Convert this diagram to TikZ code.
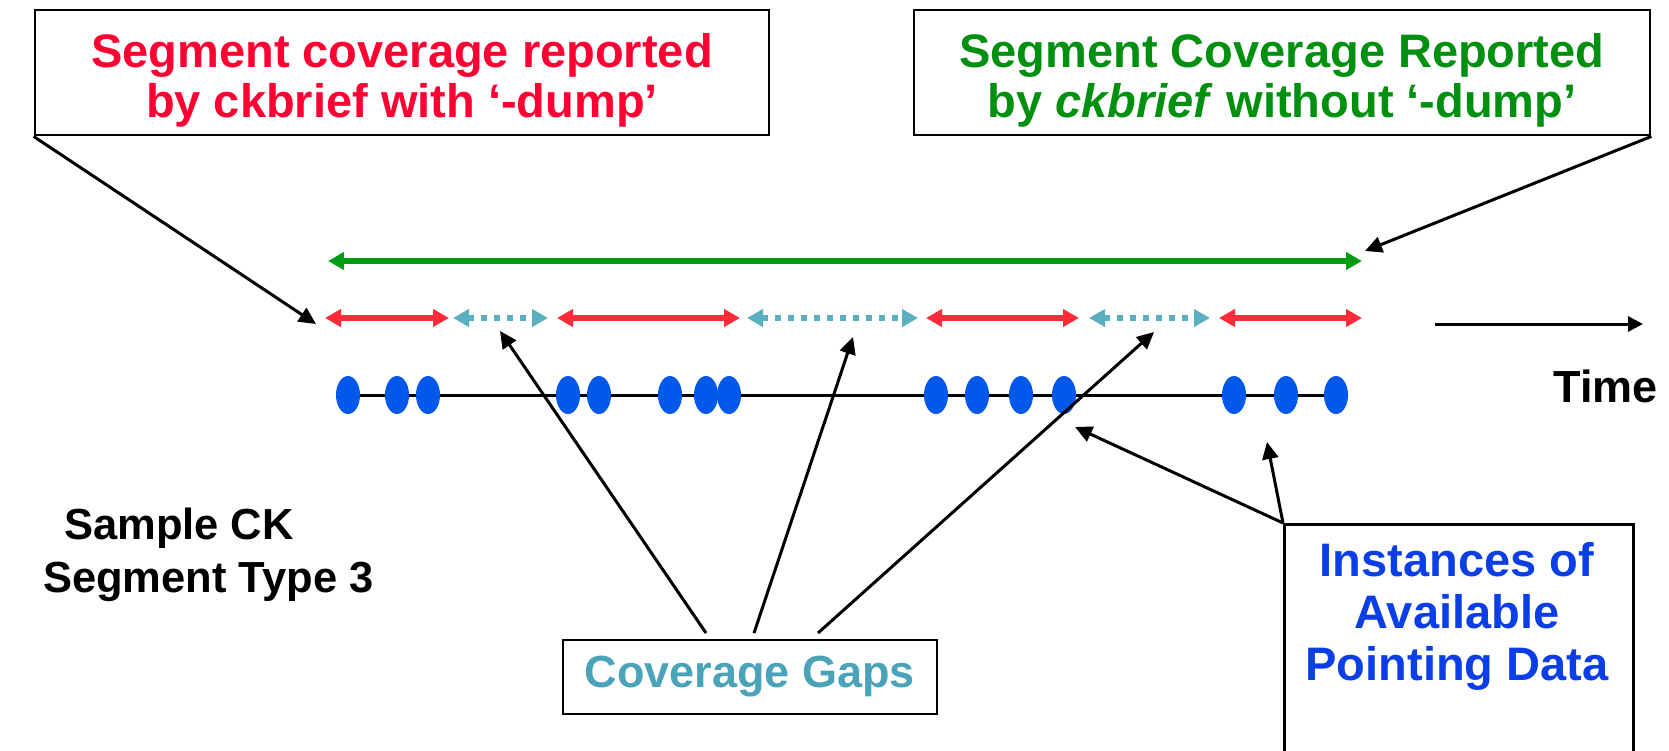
\documentclass[tikz,border=0pt]{standalone}
\usepackage{fontspec}
\setmainfont{Liberation Sans}
\usetikzlibrary{shapes.geometric,arrows.meta,positioning,backgrounds}
\definecolor{CKRed}    {HTML}{FF2B3A}
\definecolor{CKRedTxt} {HTML}{FF0033}
\definecolor{CKGreen}  {HTML}{009C14}
\definecolor{CKGreenTx}{HTML}{009010}
\definecolor{CKTeal}   {HTML}{5AAFC0}
\definecolor{CKTealTxt}{HTML}{4AA3B8}
\definecolor{CKBlue}   {HTML}{0059EA}
\definecolor{CKBlueTxt}{HTML}{0A3EE6}
\newcommand\ckfont{\fontsize{47}{50}\selectfont\bfseries}
\newcommand\cksmall{\fontsize{45}{54}\selectfont\bfseries}
\tikzset{
  boxnode/.style={draw=black,line width=2.8pt,fill=white,inner sep=0pt,align=center},
  segline/.style={CKRed,line width=6pt,{Triangle[length=16pt,width=17pt]}-{Triangle[length=16pt,width=17pt]}},
  gapline/.style={CKTeal,line width=6pt,dash pattern=on 6pt off 7pt,{Triangle[length=16pt,width=17pt]}-{Triangle[length=16pt,width=17pt]}},
  covline/.style={CKGreen,line width=6pt,{Triangle[length=16pt,width=17pt]}-{Triangle[length=16pt,width=17pt]}},
  callout/.style={black,line width=3pt,-{Triangle[length=17pt,width=16pt]}},
  dot/.style={ellipse,fill=CKBlue,minimum width=24pt,minimum height=38pt,inner sep=0pt}
}
\begin{document}
\begin{tikzpicture}[x=1pt,y=-1pt]
  \useasboundingbox (0,0) rectangle (1669,750);

  % Report boxes
  \node[boxnode,minimum width=734pt,minimum height=125pt,text=CKRedTxt,font=\ckfont]
    (dumpbox) at (402,72.5) {\rule{0pt}{50pt}Segment coverage reported\\by ckbrief with ‘-dump’};
  \node[boxnode,minimum width=736pt,minimum height=125pt,text=CKGreenTx,font=\ckfont]
    (nodumpbox) at (1282,72.5) {\rule{0pt}{50pt}Segment Coverage Reported\\by \textit{ckbrief} without ‘-dump’};

  % Coverage from ckbrief without -dump
  \coordinate (covA) at (328,261);
  \coordinate (covB) at (1362,261);
  \draw[covline] (covA) -- (covB);

  % Intervals and gaps
  \foreach \a/\b [count=\i] in {325/449,557/740,926/1079,1219/1362}{
    \coordinate (seg\i a) at (\a,318);
    \coordinate (seg\i b) at (\b,318);
    \draw[segline] (seg\i a) -- (seg\i b);
  }
  \foreach \a/\b [count=\i] in {453/548,747/918,1089/1210}{
    \coordinate (gap\i a) at (\a,318);
    \coordinate (gap\i b) at (\b,318);
    \draw[gapline] (gap\i a) -- (gap\i b);
  }

  % Pointing instances
  \foreach \x [count=\i] in {348,397,428,568,599,670,706,729,936,977,1021,1064,1234,1286,1336}
    \node[dot] (d\i) at (\x,395) {};
  \begin{scope}[on background layer]
    \draw[line width=3pt] (d1.center) -- (d15.center);
  \end{scope}

  % Time axis
  \coordinate (timeA) at (1435,324);
  \coordinate (timeB) at (1643,324);
  \draw[black,line width=3pt,-{Triangle[length=15pt,width=15pt]}] (timeA) -- (timeB);
  \node[font=\cksmall,anchor=base east,inner sep=0pt] (timelbl) at (1658,402) {Time};

  \node[font=\fontsize{43.5}{53}\selectfont\bfseries,align=left,anchor=west,inner sep=0pt] (typelbl) at (43,555)
    {\hspace*{21pt}Sample CK\\Segment Type 3};

  % Gaps box
  \node[boxnode,minimum width=374pt,minimum height=74pt,text=CKTealTxt,font=\cksmall]
    (gapbox) at (750,677) {Coverage Gaps};
  \coordinate (gs1) at (706,633);
  \coordinate (gs2) at (754,633);
  \coordinate (gs3) at (818,633);
  \coordinate (gt1) at (500,331);
  \coordinate (gt2) at (853,337);
  \coordinate (gt3) at (1154,332);
  \draw[callout] (gs1) -- (gt1);
  \draw[callout] (gs2) -- (gt2);
  \draw[callout] (gs3) -- (gt3);

  % Instances box
  \node[boxnode,anchor=north west,minimum width=349pt,minimum height=300pt]
    (instbox) at (1283,523) {};
  \node[font=\fontsize{47}{52}\selectfont\bfseries,text=CKBlueTxt,align=center,anchor=north]
    (insttext) at (1457,539) {Instances of\\Available\\Pointing Data};
  \coordinate (it1) at (1075,427);
  \coordinate (it2) at (1267,442);
  \draw[callout] (instbox.north west) -- (it1);
  \draw[callout] (instbox.north west) -- (it2);

  % Callouts from report boxes
  \coordinate (dumptip) at (316,324);
  \coordinate (nodumptip) at (1365,251);
  \draw[callout] (dumpbox.south west) -- (dumptip);
  \draw[callout] (nodumpbox.south east) -- (nodumptip);
\end{tikzpicture}
\end{document}
